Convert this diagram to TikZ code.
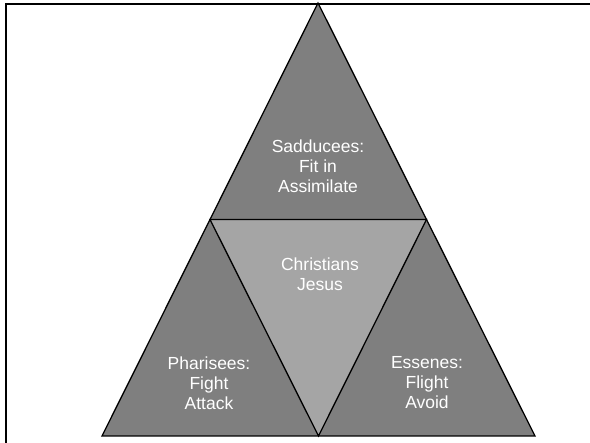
\documentclass[tikz,border=0pt]{standalone}
\usepackage{fontspec}
\setmainfont{Liberation Sans}
\definecolor{darkgrey}{HTML}{7F7F7F}
\definecolor{lightgrey}{HTML}{A5A5A5}
\begin{document}
\begin{tikzpicture}[x=1pt,y=-1pt,
  tri/.style={draw=black,line width=1.3pt,line join=miter},
  lbl/.style={text=white,align=center,font=\fontsize{17.5}{20}\selectfont,inner sep=0pt}]
\useasboundingbox (0,0) rectangle (590,443);
% frame (top and left edges visible)
\draw[line width=2pt] (6,450) -- (6,4) -- (600,4);
% corners
\coordinate (A) at (318,3);
\coordinate (B) at (102,436);
\coordinate (C) at (535,436);
\coordinate (AB) at (210,219.5);
\coordinate (AC) at (426.5,219.5);
\coordinate (BC) at (318.5,436);
\fill[darkgrey] (A) -- (B) -- (C) -- cycle;
\fill[lightgrey] (AB) -- (AC) -- (BC) -- cycle;
\draw[tri] (A) -- (B) -- (C) -- cycle;
\draw[tri] (AB) -- (AC) -- (BC) -- cycle;
\node[lbl] (sad) at (318,166) {Sadducees:\\Fit in\\Assimilate};
\node[lbl] (chr) at (320,274) {Christians\\Jesus};
\node[lbl] (pha) at (209,383) {Pharisees:\\Fight\\Attack};
\node[lbl] (ess) at (427,383) {Essenes:\\Flight\\Avoid};
\end{tikzpicture}
\end{document}
